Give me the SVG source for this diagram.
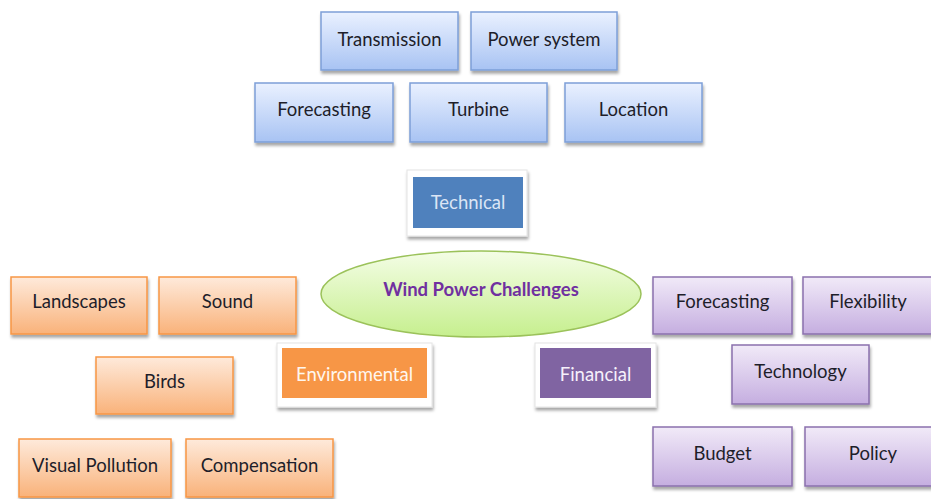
<svg xmlns="http://www.w3.org/2000/svg" width="931" height="499" viewBox="0 0 931 499">
<defs>
<linearGradient id="gb" x1="0" y1="0" x2="0" y2="1"><stop offset="0" stop-color="#eaf1ff"/><stop offset="1" stop-color="#a8c3f3"/></linearGradient>
<linearGradient id="go" x1="0" y1="0" x2="0" y2="1"><stop offset="0" stop-color="#feeadb"/><stop offset="1" stop-color="#f9b27a"/></linearGradient>
<linearGradient id="gp" x1="0" y1="0" x2="0" y2="1"><stop offset="0" stop-color="#f1eaf8"/><stop offset="1" stop-color="#c5aee0"/></linearGradient>
<linearGradient id="gg" x1="0" y1="0" x2="0" y2="1"><stop offset="0" stop-color="#f4fde6"/><stop offset="1" stop-color="#c6ef8e"/></linearGradient>
<filter id="sh" x="-10%" y="-10%" width="130%" height="140%"><feDropShadow dx="1" dy="3" stdDeviation="1.5" flood-color="#000" flood-opacity="0.35"/></filter>
</defs>
<style>
.b{fill:url(#gb);stroke:#7d9fd8;stroke-width:1.5;filter:url(#sh)}
.o{fill:url(#go);stroke:#f79646;stroke-width:1.5;filter:url(#sh)}
.p{fill:url(#gp);stroke:#8a70ad;stroke-width:1.5;filter:url(#sh)}
.f{fill:#fff;stroke:#e4e4e4;stroke-width:1;filter:url(#sh)}
text{font-family:Lato,"Open Sans",sans-serif;font-size:18.5px;text-anchor:middle;dominant-baseline:central;fill:#1e1e2a}
</style>
<g id="connectors"/>
<g id="transmission"><rect class="b" x="321" y="12" width="137" height="58"/><text x="389.5" y="39">Transmission</text></g>
<g id="power-system"><rect class="b" x="471" y="12" width="146" height="58"/><text x="544" y="39">Power system</text></g>
<g id="forecasting-tech"><rect class="b" x="255" y="83" width="138" height="59"/><text x="324" y="109">Forecasting</text></g>
<g id="turbine"><rect class="b" x="410" y="83" width="137" height="59"/><text x="478.5" y="109">Turbine</text></g>
<g id="location"><rect class="b" x="565" y="83" width="137" height="59"/><text x="633.5" y="109">Location</text></g>
<g id="technical"><rect class="f" x="407" y="170" width="120" height="66"/><rect x="413" y="177" width="110" height="51" fill="#4f81bd"/><text x="468" y="202" style="fill:#dbe5f5">Technical</text></g>
<g id="center"><ellipse cx="481" cy="294" rx="160" ry="43" fill="url(#gg)" stroke="#9bc25a" stroke-width="1.5"/><text x="481" y="289" style="fill:#7030a0;font-weight:bold">Wind Power Challenges</text></g>
<g id="environmental"><rect class="f" x="277" y="343" width="155" height="64"/><rect x="282" y="348" width="145" height="50" fill="#f79646"/><text x="354.5" y="374" style="fill:#fff6ee">Environmental</text></g>
<g id="financial"><rect class="f" x="535" y="343" width="121" height="64"/><rect x="540" y="348" width="111" height="50" fill="#8064a2"/><text x="595.5" y="374" style="fill:#f6f0fb">Financial</text></g>
<g id="landscapes"><rect class="o" x="11" y="277" width="136" height="57"/><text x="79" y="301">Landscapes</text></g>
<g id="sound"><rect class="o" x="159" y="277" width="137" height="57"/><text x="227.5" y="301">Sound</text></g>
<g id="birds"><rect class="o" x="96" y="357" width="137" height="57"/><text x="164.5" y="381">Birds</text></g>
<g id="visual-pollution"><rect class="o" x="19" y="439" width="152" height="58"/><text x="95" y="465">Visual Pollution</text></g>
<g id="compensation"><rect class="o" x="186" y="439" width="147" height="58"/><text x="259.5" y="465">Compensation</text></g>
<g id="forecasting-fin"><rect class="p" x="653" y="277" width="139" height="57"/><text x="722.5" y="301">Forecasting</text></g>
<g id="flexibility"><rect class="p" x="803" y="277" width="135" height="57"/><text x="868" y="301">Flexibility</text></g>
<g id="technology"><rect class="p" x="732" y="345" width="137" height="59"/><text x="800.5" y="371">Technology</text></g>
<g id="budget"><rect class="p" x="653" y="427" width="139" height="59"/><text x="722.5" y="453">Budget</text></g>
<g id="policy"><rect class="p" x="805" y="427" width="133" height="59"/><text x="873" y="453">Policy</text></g>
</svg>
